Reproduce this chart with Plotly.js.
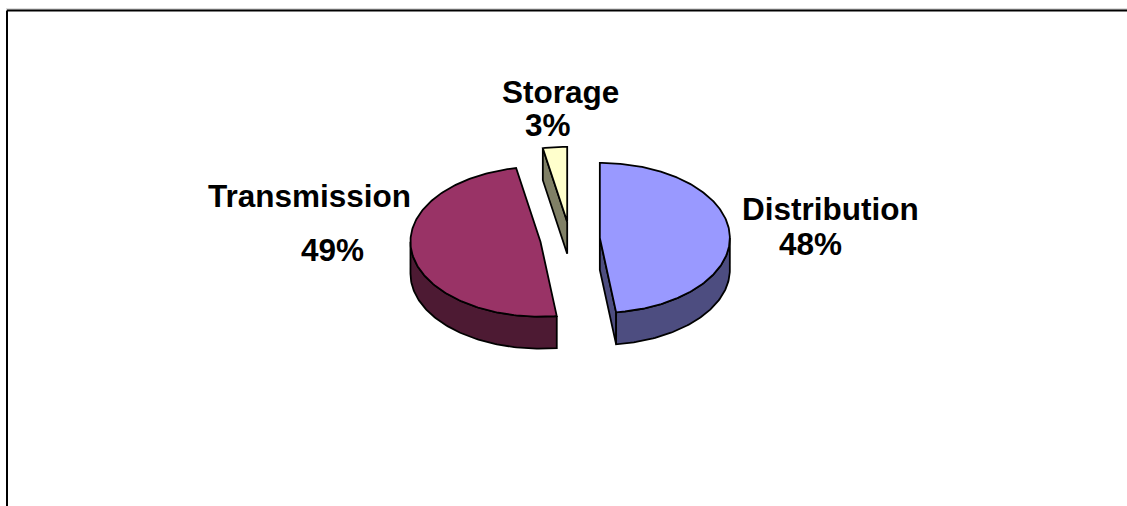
<!DOCTYPE html>
<html>
<head>
<meta charset="utf-8">
<script src="https://cdn.plot.ly/plotly-3.0.1.min.js"></script>
<style>
  html, body { margin: 0; padding: 0; background: #fff; overflow: hidden; }
  #chart { width: 1127px; height: 506px; }
</style>
</head>
<body>
<div id="chart"></div>
<script>
// Share of losses by network segment
const categories = ['Distribution', 'Transmission', 'Storage'];
const shares = [48, 49, 3];
const topColors = ['#9999FF', '#993366', '#FFFFCC'];
const sideColors = ['#4D4D80', '#4D1A33', '#808066'];

// Pie geometry (pixel space of the plot area)
const W = 1127, H = 506;
const cx = 570, cy = 239;      // centre of the top ellipse
const rx = 130, ry = 75;       // ellipse radii
const depth = 32;              // thickness of the disc
const explode = 0.23;          // radial pull as a fraction of the radius

const total = shares.reduce((a, b) => a + b, 0);

function pt(theta, ox, oy, drop) {
  const r = theta * Math.PI / 180;
  return [cx + ox + rx * Math.sin(r), cy + oy - ry * Math.cos(r) + drop];
}

function poly(points, fill) {
  return {
    type: 'scatter', mode: 'lines',
    x: points.map(p => p[0]).concat([points[0][0]]),
    y: points.map(p => p[1]).concat([points[0][1]]),
    fill: 'toself', fillcolor: fill,
    line: { color: '#000000', width: 1.8 },
    hoverinfo: 'skip', showlegend: false
  };
}

function arc(a0, a1, ox, oy, drop) {
  const pts = [];
  const n = Math.max(2, Math.ceil(Math.abs(a1 - a0)));
  for (let i = 0; i <= n; i++) pts.push(pt(a0 + (a1 - a0) * i / n, ox, oy, drop));
  return pts;
}

// Build the slices; angles run clockwise from 12 o'clock
const slices = [];
let acc = 0;
shares.forEach((v, i) => {
  const a0 = acc / total * 360;
  acc += v;
  const a1 = acc / total * 360;
  const mid = (a0 + a1) / 2 * Math.PI / 180;
  const ox = explode * rx * Math.sin(mid);
  const oy = -explode * ry * Math.cos(mid);
  slices.push({ i, a0, a1, ox, oy });
});

const traces = [];
// back to front
[2, 1, 0].forEach(k => {
  const s = slices[k];
  const c = [cx + s.ox, cy + s.oy];
  const cb = [c[0], c[1] + depth];
  // radial cut faces that turn towards the viewer
  [[s.a0, s.a0 - 90], [s.a1, s.a1 + 90]].forEach(([a, nrm]) => {
    if (Math.cos((nrm - 180) * Math.PI / 180) > 0.01) {
      traces.push(poly([c, pt(a, s.ox, s.oy, 0), pt(a, s.ox, s.oy, depth), cb], sideColors[k]));
    }
  });
  // outer rim (front half only)
  const lo = Math.max(s.a0, 90), hi = Math.min(s.a1, 270);
  if (hi > lo) {
    const top = arc(lo, hi, s.ox, s.oy, 0);
    const bot = arc(hi, lo, s.ox, s.oy, depth);
    traces.push(poly(top.concat(bot), sideColors[k]));
  }
  // top face
  traces.push(poly([c].concat(arc(s.a0, s.a1, s.ox, s.oy, 0)), topColors[k]));
});

// Label placement: [name x, name y, value x, value y]
const labelPlace = {
  Distribution: [830, 209, 810, 244],
  Transmission: [309, 196, 332, 250],
  Storage: [560, 92, 548, 125]
};

const font = { family: 'Arial, "Liberation Sans", sans-serif', size: 31.5, color: '#000000', weight: 'bold' };
const annotations = [];
categories.forEach((name, i) => {
  const p = labelPlace[name];
  annotations.push({ x: p[0], y: p[1], xref: 'x', yref: 'y', text: name, showarrow: false,
    xanchor: 'center', yanchor: 'middle', font });
  annotations.push({ x: p[2], y: p[3], xref: 'x', yref: 'y', text: shares[i] + '%', showarrow: false,
    xanchor: 'center', yanchor: 'middle', font });
});

const layout = {
  width: W, height: H,
  margin: { l: 0, r: 0, t: 0, b: 0 },
  paper_bgcolor: '#ffffff', plot_bgcolor: '#ffffff',
  xaxis: { range: [0, W], visible: false, fixedrange: true, showline: false, zeroline: false, showgrid: false },
  yaxis: { range: [H, 0], visible: false, fixedrange: true, showline: false, zeroline: false, showgrid: false },
  showlegend: false,
  annotations,
  shapes: [
    { type: 'line', xref: 'x', yref: 'y', x0: 6, y0: 9, x1: W + 5, y1: 9, line: { color: '#bbbbbb', width: 1 } },
    { type: 'line', xref: 'x', yref: 'y', x0: 7, y0: 10.5, x1: W + 5, y1: 10.5, line: { color: '#000000', width: 2 } },
    { type: 'line', xref: 'x', yref: 'y', x0: 7, y0: 10.5, x1: 7, y1: H + 5, line: { color: '#000000', width: 2 } }
  ]
};

Plotly.newPlot('chart', traces, layout, { displayModeBar: false, staticPlot: true });
</script>
</body>
</html>
